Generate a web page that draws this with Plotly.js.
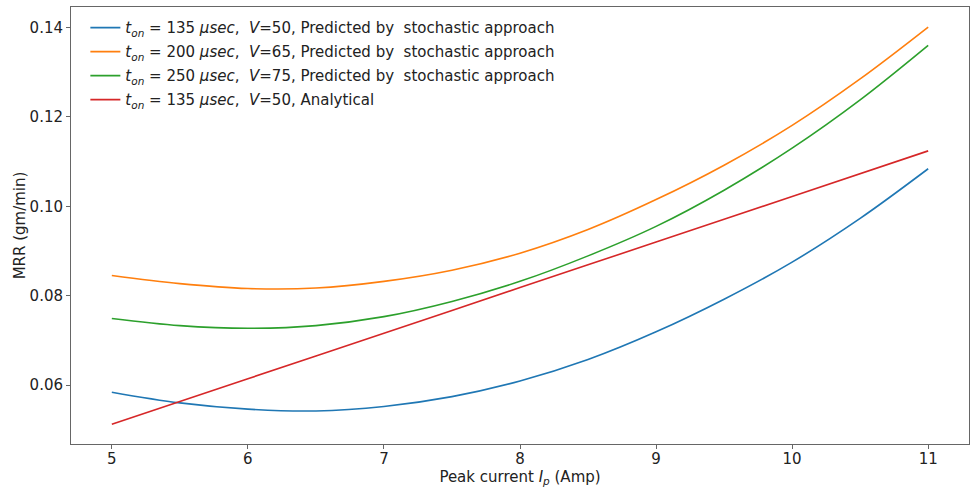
<!DOCTYPE html>
<html>
<head>
<meta charset="utf-8">
<script src="https://cdn.plot.ly/plotly-3.0.1.min.js"></script>
<style>html,body{margin:0;padding:0;background:#fff;}#chart{width:970px;height:488px;}</style>
</head>
<body>
<div id="chart"></div>
<script>
// Peak current I_p (Amp)
var currentX = [5, 5.5, 6, 6.5, 7, 7.5, 8, 8.5, 9, 9.5, 10, 10.5, 11];
// MRR (gm/min), predicted by stochastic approach
var mrrT135V50 = [0.0584, 0.0560, 0.0546, 0.0542, 0.0552, 0.0574, 0.0609, 0.0657, 0.0719, 0.0792, 0.0875, 0.0973, 0.1084];
var mrrT200V65 = [0.0845, 0.0827, 0.0816, 0.0817, 0.0832, 0.0857, 0.0895, 0.0948, 0.1015, 0.1092, 0.1181, 0.1285, 0.1401];
var mrrT250V75 = [0.0749, 0.0733, 0.0727, 0.0733, 0.0753, 0.0787, 0.0832, 0.0889, 0.0955, 0.1036, 0.1130, 0.1238, 0.1360];
// Analytical
var analyticalX = [5, 6, 7, 8, 9, 10, 11];
var mrrAnalytical = [0.0512, 0.0614, 0.0716, 0.0818, 0.0920, 0.1022, 0.1124];

var seriesNames = [
  "<i>t</i><sub><i>on</i></sub> = 135 <i>\u03bcsec</i>,\u00a0 <i>V</i>=50, Predicted by\u00a0 stochastic approach",
  "<i>t</i><sub><i>on</i></sub> = 200 <i>\u03bcsec</i>,\u00a0 <i>V</i>=65, Predicted by\u00a0 stochastic approach",
  "<i>t</i><sub><i>on</i></sub> = 250 <i>\u03bcsec</i>,\u00a0 <i>V</i>=75, Predicted by\u00a0 stochastic approach",
  "<i>t</i><sub><i>on</i></sub> = 135 <i>\u03bcsec</i>,\u00a0 <i>V</i>=50, Analytical"
];
var yTickVals = [0.06, 0.08, 0.10, 0.12, 0.14];
var xTickVals = [5, 6, 7, 8, 9, 10, 11];

var colors = ["#1f77b4", "#ff7f0e", "#2ca02c", "#d62728"];
function tr(x, y, i) {
  return {x: x, y: y, name: seriesNames[i], type: "scatter", mode: "lines", legendgroup: "g" + i,
          line: {color: colors[i], width: 1.6, shape: "spline", smoothing: 1}};
}
var data = [
  tr(currentX, mrrT135V50, 0),
  tr(currentX, mrrT200V65, 1),
  tr(currentX, mrrT250V75, 2),
  tr(analyticalX, mrrAnalytical, 3)
];
var font = {family: "DejaVu Sans, sans-serif", size: 15, color: "#222"};
var axisCommon = {showgrid: false, zeroline: false, showline: true, mirror: true,
  linecolor: "#666", linewidth: 1, ticks: "outside", ticklen: 4, tickcolor: "#666",
  tickfont: {family: "DejaVu Sans, sans-serif", size: 15, color: "#222"}};
var layout = {
  width: 970, height: 488,
  margin: {l: 71, r: 1, t: 7, b: 44},
  paper_bgcolor: "#fff", plot_bgcolor: "#fff",
  font: font,
  showlegend: true,
  legend: {x: 0.016, y: 0.99, xanchor: "left", yanchor: "top", bgcolor: "rgba(255,255,255,0)",
           tracegroupgap: 1.5,
           font: {family: "DejaVu Sans, sans-serif", size: 15, color: "#222"}},
  xaxis: Object.assign({}, axisCommon, {range: [4.7, 11.3], tickvals: xTickVals, ticklabelstandoff: -3,
    title: {text: "Peak current <i>I</i><sub><i>p</i></sub> (Amp)", standoff: 4, font: font}}),
  yaxis: Object.assign({}, axisCommon, {range: [0.0468, 0.1446], tickvals: yTickVals, tickformat: ".2f",
    title: {text: "MRR (gm/min)", standoff: 0, font: font}})
};
Plotly.newPlot("chart", data, layout, {displayModeBar: false, staticPlot: true});
</script>
</body>
</html>
